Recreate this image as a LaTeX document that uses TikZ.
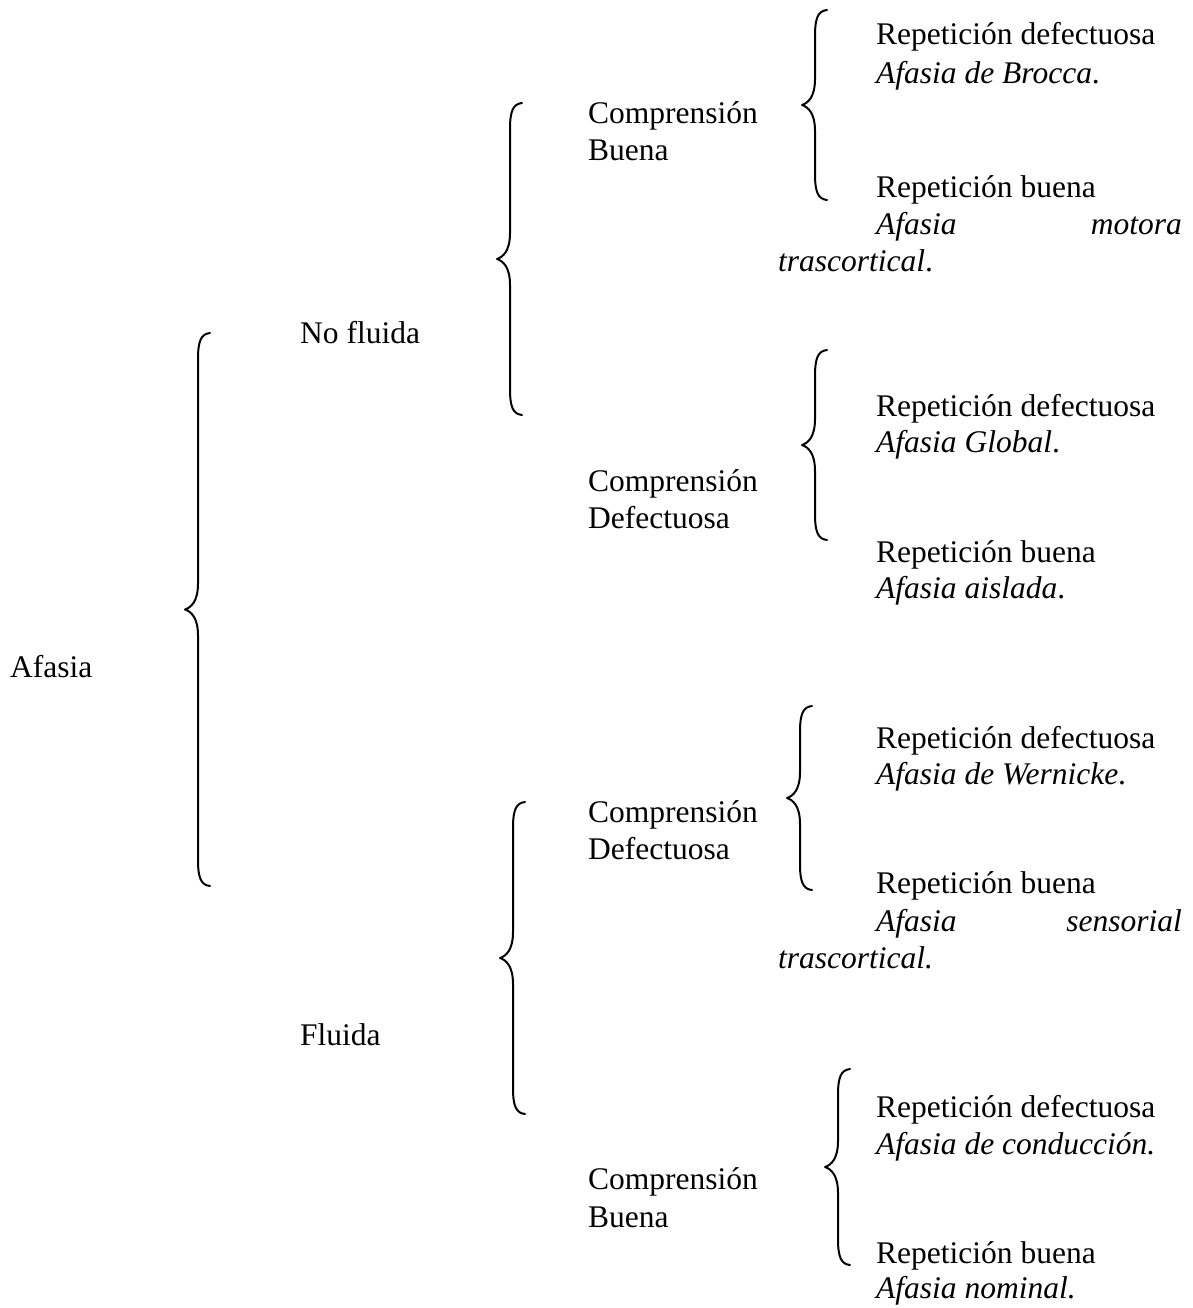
\documentclass[tikz,border=0pt]{standalone}
\usepackage{fontspec}
\setmainfont{Liberation Serif}
\newcommand{\drawbrace}[3]{% #1 end x, #2 top y, #3 bottom y
  \pgfmathsetmacro{\xe}{#1}\pgfmathsetmacro{\xv}{#1-12}\pgfmathsetmacro{\xt}{#1-25}
  \pgfmathsetmacro{\yt}{#2}\pgfmathsetmacro{\yb}{#3}\pgfmathsetmacro{\ym}{(#2+#3)/2}
  \draw[bracestyle] (\xe,\yt) .. controls (\xv+3,\yt+1) and (\xv,\yt+8) .. (\xv,\yt+26)
    -- (\xv,\ym-26) .. controls (\xv,\ym-8) and (\xt+6,\ym-2) .. (\xt,\ym)
    .. controls (\xt+6,\ym+2) and (\xv,\ym+8) .. (\xv,\ym+26)
    -- (\xv,\yb-26) .. controls (\xv,\yb-8) and (\xv+3,\yb-1) .. (\xe,\yb);
}
\begin{document}
\begin{tikzpicture}[x=1pt,y=-1pt,
  bracestyle/.style={line width=2pt, line cap=round, line join=round},
  txt/.style={anchor=base west, inner sep=0pt, font=\fontsize{31.5}{37}\selectfont},
  txtr/.style={anchor=base east, inner sep=0pt, font=\fontsize{31.5}{37}\selectfont\itshape},
  itx/.style={txt, font=\fontsize{31.5}{37}\selectfont\itshape}]
\useasboundingbox (0,0) rectangle (1192,1308);
% level 0
\node[txt] (afasia) at (10,677) {Afasia};
\drawbrace{210}{333}{886}
% level 1
\node[txt] (nofluida) at (300,343) {No fluida};
\node[txt] (fluida) at (300,1045) {Fluida};
\drawbrace{522}{103}{415}
\drawbrace{525}{802}{1114}
% level 2
\node[txt] (cb1a) at (588,124) {Comprensión};
\node[txt] (cb1b) at (588,161) {Buena};
\node[txt] (cd1a) at (588,491) {Comprensión};
\node[txt] (cd1b) at (588,528) {Defectuosa};
\node[txt] (cd2a) at (588,822) {Comprensión};
\node[txt] (cd2b) at (588,859) {Defectuosa};
\node[txt] (cb2a) at (588,1189) {Comprensión};
\node[txt] (cb2b) at (588,1227) {Buena};
% level 3 braces
\drawbrace{827}{10}{200}
\drawbrace{827}{350}{540}
\drawbrace{812}{706}{890}
\drawbrace{850}{1069}{1265}
% group 1
\node[txt] (r1a) at (876,45) {Repetición defectuosa};
\node[itx] (r1b) at (876,84) {Afasia de Brocca\upshape.};
\node[txt] (r1c) at (876,197) {Repetición buena};
\node[itx] (r1d) at (876,234) {Afasia};
\node[txtr] (r1e) at (1182,234) {motora};
\node[itx] (r1f) at (778,271) {trascortical\upshape.};
% group 2
\node[txt] (r2a) at (876,416) {Repetición defectuosa};
\node[itx] (r2b) at (876,452) {Afasia Global\upshape.};
\node[txt] (r2c) at (876,562) {Repetición buena};
\node[itx] (r2d) at (876,598) {Afasia aislada\upshape.};
% group 3
\node[txt] (r3a) at (876,748) {Repetición defectuosa};
\node[itx] (r3b) at (876,784) {Afasia de Wernicke\upshape.};
\node[txt] (r3c) at (876,893) {Repetición buena};
\node[itx] (r3d) at (876,931) {Afasia};
\node[txtr] (r3e) at (1182,931) {sensorial};
\node[itx] (r3f) at (778,968) {trascortical.};
% group 4
\node[txt] (r4a) at (876,1117) {Repetición defectuosa};
\node[itx] (r4b) at (876,1154) {Afasia de conducción.};
\node[txt] (r4c) at (876,1263) {Repetición buena};
\node[itx] (r4d) at (876,1298) {Afasia nominal.};
\end{tikzpicture}
\end{document}
